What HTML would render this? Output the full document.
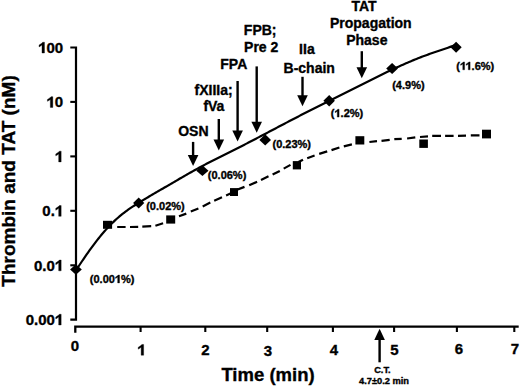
<!DOCTYPE html>
<html><head><meta charset="utf-8"><style>
html,body{margin:0;padding:0;background:#fff;}
svg{display:block;}
text{font-family:"Liberation Sans",sans-serif;font-weight:bold;fill:#000;stroke:#000;stroke-width:0.35px;}
.h{fill-opacity:0;stroke-opacity:0;}
.g1{fill:#000;stroke:#000;stroke-width:0.35px;}
</style></head><body>
<svg width="520" height="386" viewBox="0 0 520 386">
<rect width="520" height="386" fill="#fff"/>
<path d="M70.3,47.5H76V319.6H70.3" fill="none" stroke="#000" stroke-width="2.2"/>
<line x1="70.3" y1="101.9" x2="76" y2="101.9" stroke="#000" stroke-width="2.1"/>
<line x1="70.3" y1="156.4" x2="76" y2="156.4" stroke="#000" stroke-width="2.1"/>
<line x1="70.3" y1="210.8" x2="76" y2="210.8" stroke="#000" stroke-width="2.1"/>
<line x1="70.3" y1="265.3" x2="76" y2="265.3" stroke="#000" stroke-width="2.1"/>
<path d="M75.3,332.8V326.6H518.7" fill="none" stroke="#000" stroke-width="2.3"/>
<line x1="140.6" y1="326.6" x2="140.6" y2="332" stroke="#000" stroke-width="2.1"/>
<line x1="205.3" y1="326.6" x2="205.3" y2="332" stroke="#000" stroke-width="2.1"/>
<line x1="267.2" y1="326.6" x2="267.2" y2="332" stroke="#000" stroke-width="2.1"/>
<line x1="332.9" y1="326.6" x2="332.9" y2="332" stroke="#000" stroke-width="2.1"/>
<line x1="394.1" y1="326.6" x2="394.1" y2="332" stroke="#000" stroke-width="2.1"/>
<line x1="456.9" y1="326.6" x2="456.9" y2="332" stroke="#000" stroke-width="2.1"/>
<line x1="514.3" y1="326.6" x2="514.3" y2="332" stroke="#000" stroke-width="2.1"/>
<text id="o0" x="63.2" y="53.0" font-size="15" text-anchor="end" ><tspan class="h">1</tspan>00</text>
<text id="o1" x="63.2" y="107.4" font-size="15" text-anchor="end" ><tspan class="h">1</tspan>0</text>
<text id="o2" x="63.2" y="161.9" font-size="15" text-anchor="end" ><tspan class="h">1</tspan></text>
<text id="o3" x="63.2" y="216.3" font-size="15" text-anchor="end" >0.<tspan class="h">1</tspan></text>
<text id="o4" x="63.2" y="270.8" font-size="15" text-anchor="end" >0.0<tspan class="h">1</tspan></text>
<text id="o5" x="63.2" y="325.0" font-size="15" text-anchor="end" >0.00<tspan class="h">1</tspan></text>
<text x="75" y="350.8" font-size="15" text-anchor="middle" >0</text>
<text id="o6" x="141.5" y="355.2" font-size="15" text-anchor="middle" ><tspan class="h">1</tspan></text>
<text x="205.5" y="354.6" font-size="15" text-anchor="middle" >2</text>
<text x="268" y="355.6" font-size="15" text-anchor="middle" >3</text>
<text x="334" y="355.4" font-size="15" text-anchor="middle" >4</text>
<text x="394.5" y="355.2" font-size="15" text-anchor="middle" >5</text>
<text x="458.8" y="354.2" font-size="15" text-anchor="middle" >6</text>
<text x="515" y="354.1" font-size="15" text-anchor="middle" >7</text>
<text x="268" y="381" font-size="18.5" text-anchor="middle" >Time (min)</text>
<text transform="translate(14.7,181) rotate(-90)" font-size="19" text-anchor="middle">Thrombin and TAT (nM)</text>
<path d="M76.0,270.29 L77.5,268.01 L79.0,265.74 L80.5,263.49 L82.0,261.26 L83.5,259.04 L85.0,256.85 L86.5,254.68 L88.0,252.54 L89.5,250.43 L91.0,248.35 L92.5,246.30 L94.0,244.29 L95.5,242.31 L97.0,240.38 L98.5,238.49 L100.0,236.63 L101.5,234.82 L103.0,233.05 L104.5,231.32 L106.0,229.64 L107.5,228.00 L109.0,226.40 L110.5,224.84 L112.0,223.32 L113.5,221.85 L115.0,220.42 L116.5,219.04 L118.0,217.70 L119.5,216.40 L121.0,215.15 L122.5,213.94 L124.0,212.77 L125.5,211.63 L127.0,210.54 L128.5,209.47 L130.0,208.43 L131.5,207.42 L133.0,206.43 L134.5,205.46 L136.0,204.50 L137.5,203.56 L139.0,202.63 L140.5,201.71 L142.0,200.79 L143.5,199.88 L145.0,198.98 L146.5,198.08 L148.0,197.19 L149.5,196.30 L151.0,195.41 L152.5,194.53 L154.0,193.66 L155.5,192.78 L157.0,191.91 L158.5,191.04 L160.0,190.17 L161.5,189.30 L163.0,188.43 L164.5,187.57 L166.0,186.70 L167.5,185.83 L169.0,184.96 L170.5,184.08 L172.0,183.21 L173.5,182.33 L175.0,181.45 L176.5,180.58 L178.0,179.70 L179.5,178.82 L181.0,177.95 L182.5,177.08 L184.0,176.21 L185.5,175.34 L187.0,174.48 L188.5,173.63 L190.0,172.77 L191.5,171.93 L193.0,171.09 L194.5,170.25 L196.0,169.43 L197.5,168.61 L199.0,167.80 L200.5,167.00 L202.0,166.20 L203.5,165.41 L205.0,164.63 L206.5,163.85 L208.0,163.08 L209.5,162.31 L211.0,161.55 L212.5,160.79 L214.0,160.03 L215.5,159.28 L217.0,158.53 L218.5,157.78 L220.0,157.03 L221.5,156.28 L223.0,155.54 L224.5,154.79 L226.0,154.04 L227.5,153.29 L229.0,152.54 L230.5,151.79 L232.0,151.04 L233.5,150.28 L235.0,149.52 L236.5,148.76 L238.0,147.99 L239.5,147.23 L241.0,146.46 L242.5,145.69 L244.0,144.91 L245.5,144.14 L247.0,143.36 L248.5,142.58 L250.0,141.80 L251.5,141.02 L253.0,140.24 L254.5,139.46 L256.0,138.67 L257.5,137.89 L259.0,137.10 L260.5,136.32 L262.0,135.53 L263.5,134.74 L265.0,133.95 L266.5,133.16 L268.0,132.37 L269.5,131.58 L271.0,130.79 L272.5,130.00 L274.0,129.21 L275.5,128.42 L277.0,127.63 L278.5,126.84 L280.0,126.05 L281.5,125.26 L283.0,124.47 L284.5,123.69 L286.0,122.90 L287.5,122.11 L289.0,121.33 L290.5,120.55 L292.0,119.76 L293.5,118.98 L295.0,118.20 L296.5,117.42 L298.0,116.65 L299.5,115.87 L301.0,115.10 L302.5,114.33 L304.0,113.56 L305.5,112.79 L307.0,112.02 L308.5,111.26 L310.0,110.49 L311.5,109.73 L313.0,108.97 L314.5,108.21 L316.0,107.45 L317.5,106.70 L319.0,105.94 L320.5,105.19 L322.0,104.43 L323.5,103.68 L325.0,102.93 L326.5,102.17 L328.0,101.42 L329.5,100.67 L331.0,99.92 L332.5,99.17 L334.0,98.43 L335.5,97.68 L337.0,96.93 L338.5,96.18 L340.0,95.44 L341.5,94.69 L343.0,93.94 L344.5,93.20 L346.0,92.45 L347.5,91.70 L349.0,90.96 L350.5,90.21 L352.0,89.46 L353.5,88.71 L355.0,87.97 L356.5,87.22 L358.0,86.47 L359.5,85.72 L361.0,84.97 L362.5,84.22 L364.0,83.47 L365.5,82.72 L367.0,81.97 L368.5,81.22 L370.0,80.47 L371.5,79.72 L373.0,78.97 L374.5,78.22 L376.0,77.48 L377.5,76.74 L379.0,76.00 L380.5,75.26 L382.0,74.52 L383.5,73.79 L385.0,73.06 L386.5,72.34 L388.0,71.61 L389.5,70.90 L391.0,70.18 L392.5,69.47 L394.0,68.77 L395.5,68.07 L397.0,67.37 L398.5,66.68 L400.0,66.00 L401.5,65.32 L403.0,64.65 L404.5,63.98 L406.0,63.32 L407.5,62.67 L409.0,62.03 L410.5,61.39 L412.0,60.76 L413.5,60.14 L415.0,59.52 L416.5,58.92 L418.0,58.32 L419.5,57.73 L421.0,57.15 L422.5,56.58 L424.0,56.02 L425.5,55.46 L427.0,54.91 L428.5,54.37 L430.0,53.83 L431.5,53.29 L433.0,52.77 L434.5,52.24 L436.0,51.73 L437.5,51.21 L439.0,50.70 L440.5,50.19 L442.0,49.68 L443.5,49.18 L445.0,48.67 L446.5,48.17 L448.0,47.67 L449.5,47.16 L451.0,46.66 L452.5,46.16 L454.0,45.65 L455.5,45.15" fill="none" stroke="#000" stroke-width="2.2" stroke-linejoin="round"/>
<path d="M117.2,227.0L125.6,227.0 M130.0,227.0L138.2,226.8 M142.3,226.6L151.2,226.2 M155.4,225.7L163.1,223.2 M179.0,216.3L186.3,213.6 M190.8,211.6L198.4,208.6 M202.7,206.4L210.3,202.6 M214.2,200.7L222.0,197.2 M226.1,195.4L231.0,193.2 M237.0,189.8L244.5,186.9 M249.2,185.3L257.1,181.8 M261.0,179.9L268.5,176.3 M272.6,174.5L279.8,170.9 M283.7,168.6L290.5,164.9 M298.5,162.0L303.0,159.7 M307.2,158.2L314.6,155.5 M319.2,153.9L327.2,151.4 M331.5,150.1L339.4,147.5 M343.8,146.4L351.9,144.4 M369.4,142.0L377.0,141.1 M381.5,140.8L389.7,139.9 M394.3,139.2L401.7,138.8 M407.1,138.5L415.3,137.4 M420.0,137.0L428.0,136.4 M432.2,135.9L441.0,135.8 M445.1,135.8L453.6,135.8 M458.0,135.8L466.0,135.7 M470.8,135.4L479.5,135.3" fill="none" stroke="#000" stroke-width="2.2"/>
<path d="M75.9,264.3L81.8,269.5L75.9,274.7L70.1,269.5Z"/>
<path d="M138.7,197.4L144.3,203.0L138.7,208.6L133.1,203.0Z"/>
<path d="M202.4,165.3L208.5,170.7L202.4,176.1L196.3,170.7Z"/>
<path d="M265.2,134.2L271.0,139.9L265.2,145.6L259.4,139.9Z"/>
<path d="M329.2,95.0L334.9,100.7L329.2,106.4L323.4,100.7Z"/>
<path d="M392.1,62.9L398.0,68.4L392.1,74.0L386.2,68.4Z"/>
<path d="M456.1,41.8L461.7,47.2L456.1,52.7L450.5,47.2Z"/>
<rect x="103.0" y="220.8" width="9.1" height="8.0"/>
<rect x="166.2" y="215.4" width="9.0" height="8.2"/>
<rect x="230.0" y="188.1" width="8.0" height="7.9"/>
<rect x="292.8" y="161.1" width="8.2" height="8.3"/>
<rect x="355.4" y="136.2" width="8.9" height="8.3"/>
<rect x="419.3" y="139.5" width="8.6" height="8.4"/>
<rect x="482.0" y="129.7" width="9.0" height="8.7"/>
<line x1="193.1" y1="141.9" x2="193.1" y2="155.89999999999998" stroke="#000" stroke-width="2.4"/><path d="M187.8,154.9L198.4,154.9L193.1,165.9Z"/>
<line x1="218.8" y1="119" x2="218.8" y2="140.39999999999998" stroke="#000" stroke-width="2.4"/><path d="M213.5,139.4L224.1,139.4L218.8,150.4Z"/>
<line x1="237.6" y1="81" x2="237.6" y2="131.5" stroke="#000" stroke-width="2.4"/><path d="M232.3,130.5L242.9,130.5L237.6,141.5Z"/>
<line x1="256.7" y1="66.4" x2="256.7" y2="122.7" stroke="#000" stroke-width="2.4"/><path d="M251.4,121.7L262.0,121.7L256.7,132.7Z"/>
<line x1="302.5" y1="76.8" x2="302.5" y2="96.2" stroke="#000" stroke-width="2.4"/><path d="M297.2,95.2L307.8,95.2L302.5,106.2Z"/>
<line x1="361.8" y1="51.2" x2="361.8" y2="68.3" stroke="#000" stroke-width="2.4"/><path d="M356.5,67.3L367.1,67.3L361.8,78.3Z"/>
<line x1="379.6" y1="362.3" x2="379.6" y2="338.9" stroke="#000" stroke-width="2.4"/><path d="M374.3,339.9L384.9,339.9L379.6,328.7Z"/>
<text x="193.4" y="136.1" font-size="14" text-anchor="middle" >OSN</text>
<text x="213.6" y="94.7" font-size="14" text-anchor="middle" >fXIIIa;</text>
<text x="213.9" y="111.3" font-size="14" text-anchor="middle" >fVa</text>
<text x="233.8" y="69.2" font-size="14" text-anchor="middle" >FPA</text>
<text x="260.2" y="35.2" font-size="14" text-anchor="middle" >FPB;</text>
<text x="261.2" y="52.3" font-size="14" text-anchor="middle" >Pre 2</text>
<text x="306.9" y="53.7" font-size="14" text-anchor="middle" >IIa</text>
<text x="309.2" y="72.9" font-size="14" text-anchor="middle" >B-chain</text>
<text x="364" y="11.2" font-size="14" text-anchor="middle" >TAT</text>
<text x="370.8" y="27.7" font-size="14" text-anchor="middle" >Propagation</text>
<text x="366.8" y="45.3" font-size="14" text-anchor="middle" >Phase</text>
<text id="o7" x="89.8" y="282.9" font-size="11" text-anchor="start" >(0.00<tspan class="h">1</tspan>%)</text>
<text x="146.2" y="209.8" font-size="11" text-anchor="start" >(0.02%)</text>
<text x="207.8" y="178.6" font-size="11" text-anchor="start" >(0.06%)</text>
<text x="272.5" y="147.5" font-size="11" text-anchor="start" >(0.23%)</text>
<text id="o8" x="330.8" y="117.1" font-size="11" text-anchor="start" >(<tspan class="h">1</tspan>.2%)</text>
<text x="392.2" y="88.5" font-size="11" text-anchor="start" >(4.9%)</text>
<text id="o9" x="456.3" y="69.8" font-size="11" text-anchor="start" >(<tspan class="h">1</tspan><tspan class="h">1</tspan>.6%)</text>
<text x="382.4" y="372.9" font-size="9.3" text-anchor="middle" >C.T.</text>
<text x="384" y="384" font-size="9.3" text-anchor="middle" >4.7±0.2 min</text>
<path class="g1" d="M44.47,53.00L44.47,42.26L42.67,42.26Q41.99,43.40 39.07,45.05L39.07,46.92Q40.72,46.10 41.99,45.05L41.99,53.00Z"/>
<path class="g1" d="M52.81,107.40L52.81,96.66L51.01,96.66Q50.34,97.80 47.41,99.45L47.41,101.33Q49.06,100.50 50.34,99.45L50.34,107.40Z"/>
<path class="g1" d="M61.16,161.90L61.16,151.16L59.36,151.16Q58.68,152.30 55.76,153.95L55.76,155.82Q57.41,155.00 58.68,153.95L58.68,161.90Z"/>
<path class="g1" d="M61.16,216.30L61.16,205.56L59.36,205.56Q58.68,206.70 55.76,208.35L55.76,210.23Q57.41,209.40 58.68,208.35L58.68,216.30Z"/>
<path class="g1" d="M61.16,270.80L61.16,260.06L59.36,260.06Q58.68,261.20 55.76,262.85L55.76,264.72Q57.41,263.90 58.68,262.85L58.68,270.80Z"/>
<path class="g1" d="M61.16,325.00L61.16,314.26L59.36,314.26Q58.68,315.40 55.76,317.05L55.76,318.93Q57.41,318.10 58.68,317.05L58.68,325.00Z"/>
<path class="g1" d="M143.63,355.20L143.63,344.46L141.83,344.46Q141.15,345.60 138.23,347.25L138.23,349.13Q139.88,348.30 141.15,347.25L141.15,355.20Z"/>
<path class="g1" d="M119.50,282.90L119.50,275.02L118.18,275.02Q117.68,275.86 115.54,277.07L115.54,278.44Q116.75,277.84 117.68,277.07L117.68,282.90Z"/>
<path class="g1" d="M339.09,117.10L339.09,109.22L337.77,109.22Q337.28,110.06 335.13,111.27L335.13,112.64Q336.34,112.04 337.28,111.27L337.28,117.10Z"/>
<path class="g1" d="M464.59,69.80L464.59,61.92L463.27,61.92Q462.78,62.76 460.63,63.97L460.63,65.35Q461.84,64.74 462.78,63.97L462.78,69.80Z"/>
<path class="g1" d="M470.11,69.80L470.11,61.92L468.79,61.92Q468.29,62.76 466.15,63.97L466.15,65.35Q467.36,64.74 468.29,63.97L468.29,69.80Z"/>
</svg>
</body></html>
